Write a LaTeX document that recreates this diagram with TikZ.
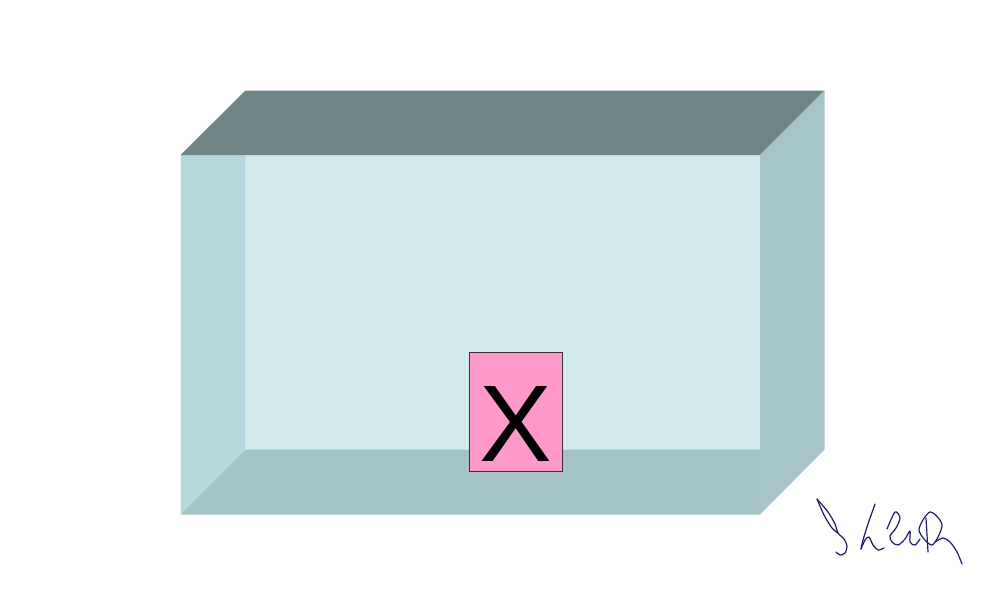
\documentclass[tikz,border=0pt]{standalone}
\usepackage{fontspec}
\setmainfont{Liberation Sans}
\definecolor{topface}{RGB}{111,133,134}
\definecolor{leftface}{RGB}{181,216,220}
\definecolor{backwall}{RGB}{209,233,235}
\definecolor{bottomface}{RGB}{163,195,198}
\definecolor{rightface}{RGB}{166,197,201}
\definecolor{pinkbox}{RGB}{255,153,204}
\definecolor{ink}{RGB}{28,28,110}
\tikzset{
  face/.style={draw=none},
  xbox/.style={draw=black!80, line width=0.8pt, fill=pinkbox, minimum width=93pt, minimum height=119pt, inner sep=0pt},
  xlabel/.style={font=\fontsize{109}{110}\selectfont, inner sep=0pt},
  sig/.style={draw=ink, line width=1.2pt, line cap=round, line join=round}
}
\begin{document}
\begin{tikzpicture}[x=1pt,y=-1pt]
\useasboundingbox (0,0) rectangle (1000,597);
\fill[white] (0,0) rectangle (1000,597);
% coordinates
\coordinate (fTL) at (180.5,155);
\coordinate (fTR) at (760,155);
\coordinate (fBR) at (760,514.5);
\coordinate (fBL) at (180.5,514.5);
\coordinate (bTL) at (245.5,90.5);
\coordinate (bTR) at (824.5,90.5);
\coordinate (bBR) at (824.5,449.5);
\coordinate (iTL) at (245.5,155);
\coordinate (iBL) at (245.5,449.5);
\coordinate (iBR) at (760,449.5);
% faces
\fill[backwall] (iTL) rectangle (iBR);
\fill[leftface] (fTL) -- (iTL) -- (iBL) -- (fBL) -- cycle;
\fill[bottomface] (fBL) -- (iBL) -- (iBR) -- (fBR) -- cycle;
\fill[topface] (fTL) -- (bTL) -- (bTR) -- (fTR) -- cycle;
\fill[rightface] (fTR) -- (bTR) -- (bBR) -- (fBR) -- cycle;
% pink box
\node[xbox] (xb) at (515.7,411.7) {};
\node[xlabel] (xl) at (516,424) {X};
% signature
\draw[sig] plot[smooth] coordinates {(817,499) (824,515) (832,528) (838,533)};
\draw[sig] plot[smooth] coordinates {(817,499) (828,512) (835,524) (838,533) (844,539) (847,546) (845,553) (840,555) (836,552)};
\draw[sig] plot[smooth] coordinates {(875,504) (868,524) (863,540) (861,549)};
\draw[sig] plot[smooth] coordinates {(861,549) (865,540) (869,537) (873,545) (878,550) (884,548)};
\draw[sig] plot[smooth] coordinates {(887,529) (895,512) (900,518) (896,528) (890,536) (892,542) (898,545) (905,539) (910,531) (910,542) (915,545) (920,539)};
\draw[sig] plot[smooth cycle] coordinates {(919,530) (930,512) (942,525) (932,545)};
\draw[sig] plot[smooth] coordinates {(926,518) (927,535) (928,552)};
\draw[sig] plot[smooth] coordinates {(935,542) (943,538) (950,542) (957,552) (962,564)};
\end{tikzpicture}
\end{document}
